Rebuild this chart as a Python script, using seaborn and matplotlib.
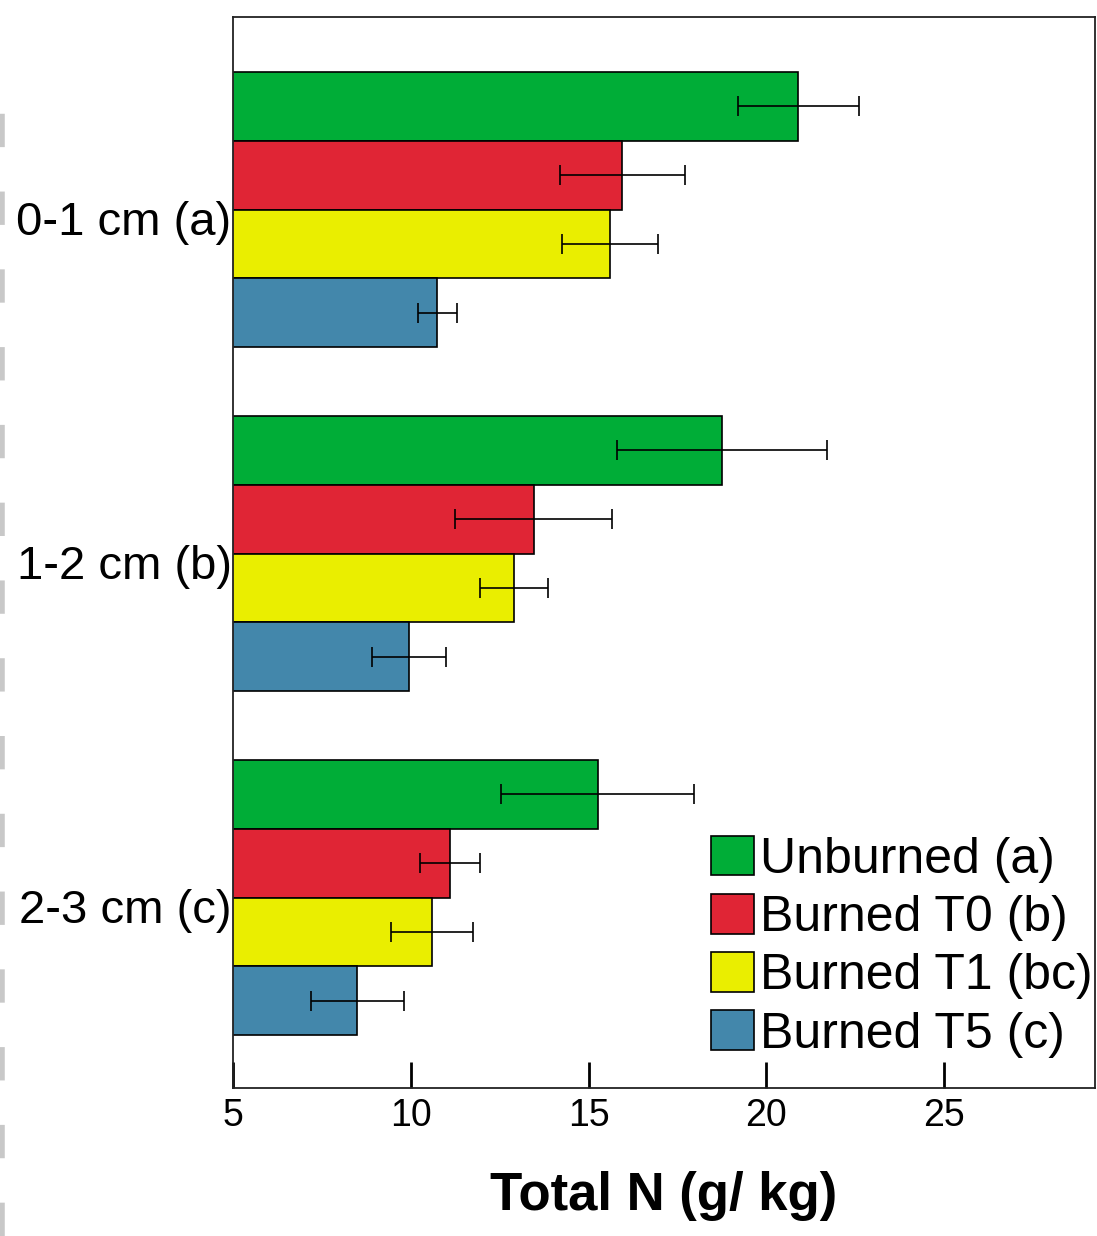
import numpy as np
import pandas as pd
import matplotlib
matplotlib.use("Agg")
import matplotlib.pyplot as plt
import matplotlib.transforms as mtransforms
import seaborn as sns
from matplotlib.lines import Line2D

# values (Total N, g/kg) and error bar half widths
depths = ["0-1 cm (a)", "1-2 cm (b)", "2-3 cm (c)"]
treatments = ["Unburned (a)", "Burned T0 (b)", "Burned T1 (bc)", "Burned T5 (c)"]
unburned = [20.9, 18.75, 15.25]
burned_t0 = [15.95, 13.45, 11.1]
burned_t1 = [15.6, 12.9, 10.6]
burned_t5 = [10.75, 9.95, 8.5]
unburned_err = [1.7, 2.95, 2.7]
burned_t0_err = [1.75, 2.2, 0.85]
burned_t1_err = [1.35, 0.95, 1.15]
burned_t5_err = [0.55, 1.05, 1.3]
colors = ["#00AD37", "#E02535", "#EAEE00", "#4387AB"]

means = [unburned, burned_t0, burned_t1, burned_t5]
errs = [unburned_err, burned_t0_err, burned_t1_err, burned_t5_err]

rows = []
for t, vals in zip(treatments, means):
    for d, v in zip(depths, vals):
        rows.append({"depth": d, "treatment": t, "value": v})
df = pd.DataFrame(rows)

sns.set_style("white")
plt.rcParams["font.family"] = ["Liberation Sans", "DejaVu Sans"]
plt.rcParams["text.color"] = "black"
plt.rcParams["axes.labelcolor"] = "black"
plt.rcParams["xtick.color"] = "black"
plt.rcParams["ytick.color"] = "black"

fig = plt.figure(figsize=(10.97, 12.36), dpi=100)
ax = fig.add_axes([0.2124, 0.1197, 0.7858, 0.8665])

sns.barplot(data=df, x="value", y="depth", hue="treatment", order=depths,
            hue_order=treatments, palette=colors, orient="h", errorbar=None,
            width=0.8, saturation=1, edgecolor="black", linewidth=1.2, ax=ax)

# error bars on top of each bar
for cont, err in zip(ax.containers, errs):
    ys = [b.get_y() + b.get_height() / 2 for b in cont]
    xs = [b.get_width() for b in cont]
    ax.errorbar(xs, ys, xerr=err, fmt="none", ecolor="black",
                elinewidth=1.2, capsize=7.2, capthick=1.2, zorder=5)

ax.set_xlim(5, 29.24)
ax.set_ylim(2.554, -0.56)
ax.set_xticks([5, 10, 15, 20, 25])
ax.set_ylabel("")
ax.set_xlabel("Total N (g/ kg)", fontsize=38, fontweight="bold", labelpad=27)
ax.tick_params(axis="x", direction="in", length=19, width=2.0, labelsize=27,
               pad=7, bottom=True)
ax.tick_params(axis="y", direction="in", length=23, width=2.5, labelsize=34,
               pad=1, left=True)
# depth labels sit a little below the tick in the original
shift = mtransforms.ScaledTranslation(0, -6 / 72, fig.dpi_scale_trans)
for lab in ax.get_yticklabels():
    lab.set_transform(lab.get_transform() + shift)
for s in ax.spines.values():
    s.set_linewidth(1.3)
    s.set_color("#222222")

h, l = ax.get_legend_handles_labels()
ax.legend(h, l, loc="lower right", bbox_to_anchor=(0.997, 0.0285), frameon=False,
          fontsize=36, handlelength=0.85, handleheight=0.85, handletextpad=0.12,
          labelspacing=0.22, borderaxespad=0.0, borderpad=0.0)

# dashed crop mark at the left edge
fig.add_artist(Line2D([0.002, 0.002], [0.0, 0.92], transform=fig.transFigure,
                      color="#c8c8c8", linewidth=4, linestyle=(0, (6, 8))))

fig.savefig("out.png", dpi=100)
